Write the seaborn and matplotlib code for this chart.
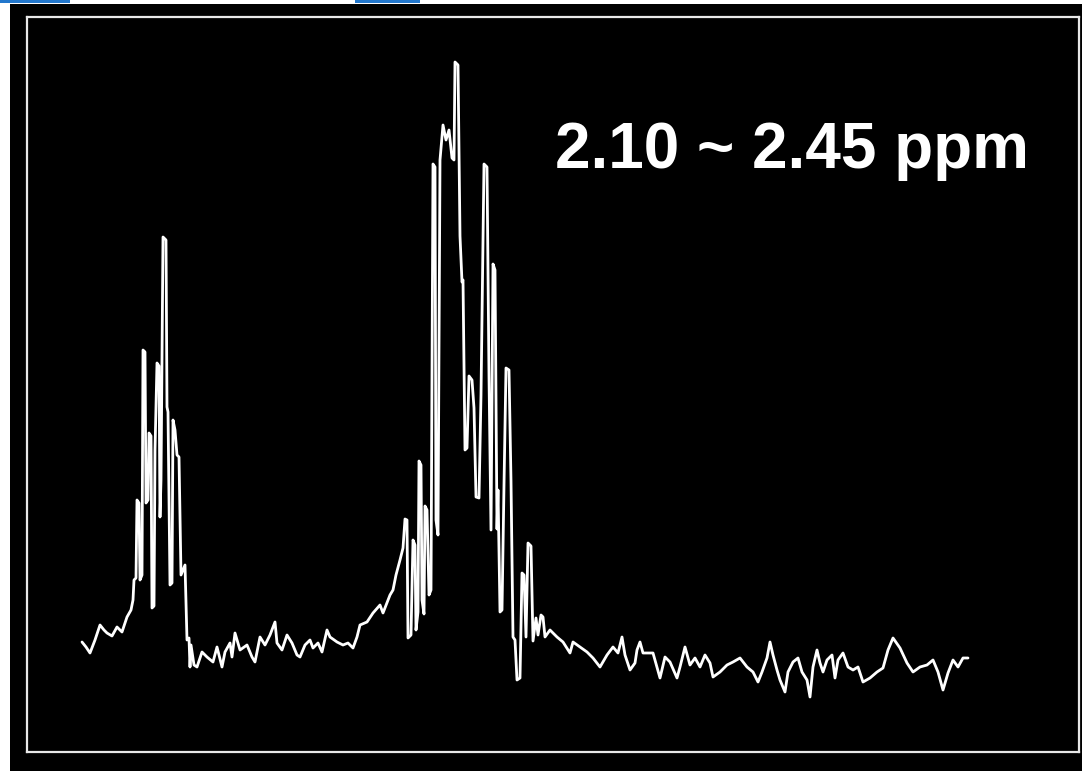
import matplotlib
matplotlib.use("Agg")
import matplotlib.pyplot as plt
import seaborn as sns
import pandas as pd
from matplotlib.patches import Rectangle

# spectral point number (left -> right) and intensity (arbitrary units)
point = [82, 86, 90, 95, 100, 104, 107, 112, 117, 122, 127, 131, 133, 134, 136, 137, 139, 140, 142, 143,
         145, 146, 148, 149, 151, 152, 154, 155, 157, 159, 160, 161, 163, 166, 167, 168, 170, 172, 173, 175,
         177, 179, 181, 183, 185, 187, 189, 190, 191, 194, 197, 202, 207, 213, 217, 222, 225, 230, 232, 235,
         240, 247, 252, 255, 260, 265, 270, 275, 277, 282, 287, 292, 297, 300, 305, 310, 313, 318, 322, 327,
         330, 337, 343, 348, 353, 357, 360, 367, 373, 380, 383, 390, 393, 396, 400, 403,
         405, 407, 408, 411, 413, 415, 416, 418, 419, 421, 422, 424, 425, 427, 429, 431, 433, 435, 436, 438,
         440, 443, 446, 449, 452, 454, 455, 458, 460, 462, 463, 465, 467, 469, 472, 474, 476, 479, 481, 484,
         487, 489, 491, 493, 495, 497, 498, 500, 502, 504, 506, 509, 511, 513, 515, 517, 520, 522, 524, 526,
         528, 531, 533, 536, 538, 541, 543, 545, 550, 557, 563, 570, 573, 580, 587, 593, 600, 607, 613, 618,
         622, 625, 630, 635, 637, 640, 643, 653, 660, 665, 670, 677, 680, 685, 690, 695, 700, 705, 710, 713,
         720, 727, 733, 740, 747, 753, 758, 762, 767, 770, 773, 777, 780, 785, 788, 793, 798, 802, 807, 810,
         813, 817, 820, 823, 827, 832, 835, 838, 843, 848, 853, 858, 863, 870, 877, 883, 888, 893, 900, 907,
         913, 920, 927, 933, 938, 943, 948, 953, 958, 963, 968]

intensity = [58, 53, 47, 60, 75, 70, 67, 64, 73, 68, 83, 90, 100, 120, 122, 200, 197, 120, 125, 350,
             348, 197, 200, 267, 264, 92, 94, 250, 337, 334, 183, 220, 463, 460, 293, 288, 115, 117, 280, 270,
             245, 243, 125, 130, 135, 60, 62, 33, 55, 35, 33, 48, 43, 38, 53, 33, 48, 57, 43, 67,
             50, 55, 43, 38, 63, 55, 65, 78, 57, 50, 65, 57, 45, 43, 55, 60, 52, 57, 48, 70,
             63, 58, 55, 57, 52, 63, 75, 78, 87, 95, 87, 105, 110, 125, 140, 152,
             181, 180, 62, 65, 160, 155, 70, 88, 239, 235, 100, 86, 194, 190, 105, 110, 536, 533, 180, 165,
             540, 575, 560, 570, 542, 540, 638, 635, 464, 418, 420, 250, 252, 324, 320, 292, 203, 202, 305, 536,
             533, 324, 170, 436, 430, 171, 210, 88, 90, 215, 332, 330, 219, 63, 60, 20, 22, 127, 125, 63,
             157, 154, 59, 82, 65, 85, 83, 63, 70, 63, 58, 47, 58, 53, 48, 42, 33, 45, 53, 47,
             63, 45, 30, 37, 50, 58, 47, 47, 22, 43, 38, 22, 33, 53, 35, 42, 33, 45, 37, 23,
             28, 35, 38, 42, 33, 28, 18, 28, 42, 58, 45, 30, 20, 8, 28, 38, 42, 28, 20, 3,
             33, 50, 37, 28, 40, 45, 22, 40, 47, 33, 30, 33, 18, 22, 28, 32, 50, 62, 52, 37,
             28, 33, 35, 40, 28, 10, 27, 40, 33, 42, 42]

label_text = "2.10 ~ 2.45 ppm"

W, H = 1082, 771
df = pd.DataFrame({"point": point, "intensity": intensity})

sns.set_theme(style="dark")
fig = plt.figure(figsize=(W / 100, H / 100), dpi=100, facecolor="white")

# black screenshot background and small blue window bits at the top edge
fig.patches.append(Rectangle((10 / W, 0), 1 - 10 / W, 1 - 4 / H, transform=fig.transFigure,
                             facecolor="black", edgecolor="none", zorder=-2))
fig.patches.append(Rectangle((0, 1 - 3 / H), 70 / W, 3 / H, transform=fig.transFigure,
                             facecolor="#2277cc", edgecolor="none", zorder=-1))
fig.patches.append(Rectangle((355 / W, 1 - 3 / H), 65 / W, 3 / H, transform=fig.transFigure,
                             facecolor="#2277cc", edgecolor="none", zorder=-1))

ax = fig.add_axes([27 / W, 1 - 752 / H, (1079 - 27) / W, (752 - 17) / H])
ax.set_zorder(1)
ax.set_facecolor("black")
sns.lineplot(data=df, x="point", y="intensity", ax=ax, color="white", linewidth=2.0,
             estimator=None, sort=False)
ax.set_xlim(27, 1079)
ax.set_ylim(-52, 683)
ax.set_xticks([])
ax.set_yticks([])
ax.set_xlabel("")
ax.set_ylabel("")
ax.grid(False)
for s in ax.spines.values():
    s.set_visible(True)
    s.set_color("#e8e8e8")
    s.set_linewidth(1.6)

fig.text(555 / W, 1 - 168 / H, label_text, color="white", fontsize=46, fontweight="bold",
         family=["Liberation Sans", "DejaVu Sans"], ha="left", va="baseline", zorder=5)

fig.savefig("out.png", dpi=100, facecolor="white")
